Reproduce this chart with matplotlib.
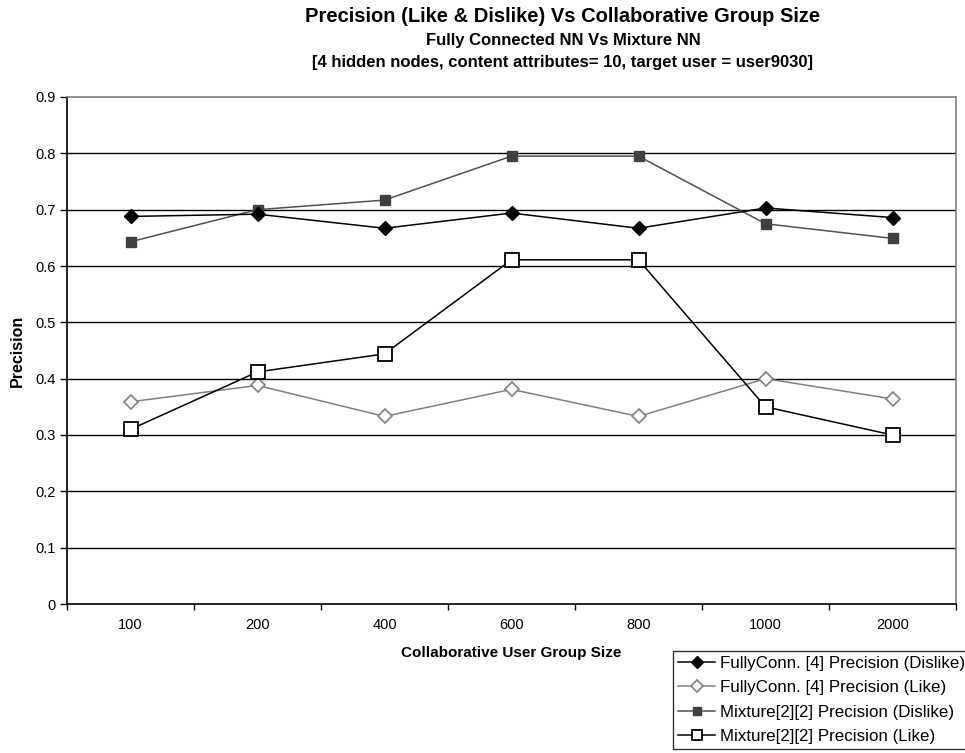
import matplotlib
matplotlib.use("Agg")
import matplotlib.pyplot as plt
import numpy as np

plt.rcParams['font.family'] = ['Liberation Sans', 'DejaVu Sans']

group_sizes = ["100", "200", "400", "600", "800", "1000", "2000"]
fc_dislike = [0.688, 0.692, 0.667, 0.694, 0.667, 0.703, 0.686]
fc_like = [0.359, 0.388, 0.333, 0.381, 0.333, 0.400, 0.364]
mix_dislike = [0.643, 0.700, 0.717, 0.795, 0.795, 0.675, 0.649]
mix_like = [0.310, 0.412, 0.444, 0.611, 0.611, 0.350, 0.300]
y_ticks = [0, 0.1, 0.2, 0.3, 0.4, 0.5, 0.6, 0.7, 0.8, 0.9]

fig = plt.figure(figsize=(9.65, 7.53), dpi=100)
ax = fig.add_axes([67/965, 1 - 604/753, (956 - 67)/965, (604 - 97)/753])

x = np.arange(len(group_sizes))

ax.plot(x, fc_dislike, color='black', lw=1.1, marker='D', ms=7.5,
        mfc='black', mec='black', label='FullyConn. [4] Precision (Dislike)', zorder=4)
ax.plot(x, fc_like, color='#808080', lw=1.1, marker='D', ms=7.5,
        mfc='white', mec='#808080', mew=1.2, label='FullyConn. [4] Precision (Like)', zorder=3)
ax.plot(x, mix_dislike, color='#505050', lw=1.1, marker='s', ms=7,
        mfc='#404040', mec='#404040', label='Mixture[2][2] Precision (Dislike)', zorder=3)
ax.plot(x, mix_like, color='black', lw=1.1, marker='s', ms=9.5,
        mfc='white', mec='black', mew=1.3, label='Mixture[2][2] Precision (Like)', zorder=5)

ax.set_xlim(-0.5, len(group_sizes) - 0.5)
ax.set_ylim(0, 0.9)
ax.set_yticks(y_ticks)
ax.set_yticklabels([f"{v:g}" for v in y_ticks], fontsize=10.5)

# category labels centred, tick marks on category boundaries
ax.set_xticks(np.arange(-0.5, len(group_sizes), 1.0))
ax.set_xticklabels([])
ax.set_xticks(x, minor=True)
ax.set_xticklabels(group_sizes, minor=True, fontsize=10.5)
ax.tick_params(axis='x', which='minor', length=0, pad=10)
ax.tick_params(axis='x', which='major', length=4, width=1, color='black', direction='out')
ax.tick_params(axis='y', length=5, width=1, color='black', direction='out', pad=3)

for v in y_ticks[1:-1]:
    ax.axhline(v, color='black', lw=1, zorder=1)

for side in ['left', 'bottom']:
    ax.spines[side].set_color('black')
    ax.spines[side].set_linewidth(1.2)
for side in ['top', 'right']:
    ax.spines[side].set_color('#808080')
    ax.spines[side].set_linewidth(1.2)

ax.set_xlabel('Collaborative User Group Size', fontsize=11, fontweight='bold', labelpad=10)
ax.set_ylabel('Precision', fontsize=11.5, fontweight='bold', labelpad=8)

fig.text(563/965, 1 - 17/753, 'Precision (Like & Dislike) Vs Collaborative Group Size',
         ha='center', va='center', fontsize=14.5, fontweight='bold')
fig.text(563/965, 1 - 40/753, 'Fully Connected NN Vs Mixture NN',
         ha='center', va='center', fontsize=12, fontweight='bold')
fig.text(563/965, 1 - 62/753, '[4 hidden nodes, content attributes= 10, target user = user9030]',
         ha='center', va='center', fontsize=12, fontweight='bold')

leg = fig.legend(loc='upper left', bbox_to_anchor=(673/965, 1 - 651/753),
                 fontsize=12.2, frameon=True, fancybox=False, edgecolor='black',
                 borderpad=0.3, labelspacing=0.55, handlelength=2.2, handletextpad=0.3,
                 borderaxespad=0, markerscale=0.75)
leg.get_frame().set_linewidth(1)

fig.savefig('out.png', dpi=100)
